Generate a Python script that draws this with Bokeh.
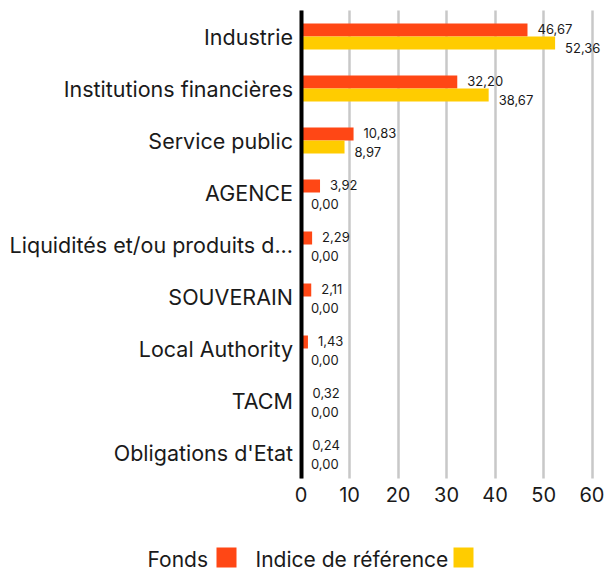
from bokeh.plotting import figure
from bokeh.models import Range1d, ColumnDataSource, FixedTicker, LabelSet
from bokeh.transform import dodge
from bokeh.core.properties import value
from bokeh.embed import file_html
from bokeh.resources import INLINE

# ---- data ----
categories = ["Industrie", "Institutions financières", "Service public", "AGENCE",
              "Liquidités et/ou produits d...", "SOUVERAIN", "Local Authority",
              "TACM", "Obligations d'Etat"]
fonds = [46.67, 32.20, 10.83, 3.92, 2.29, 2.11, 1.43, 0.32, 0.24]
indice = [52.36, 38.67, 8.97, 0.00, 0.00, 0.00, 0.00, 0.00, 0.00]
x_ticks = [0, 10, 20, 30, 40, 50, 60]
series_names = ["Fonds", "Indice de référence"]

ORANGE = "#FF4715"
YELLOW = "#FFCC00"
FONT = "Inter"
TXT = "#1a1a1a"

# ---- layout (pixels) ----
W, H = 604, 573
X0_PX = 300.5      # pixel column of value 0
PXU = 4.853        # pixels per unit on the value axis
Y0_PX = 478.0      # pixel row of the bottom of the category area
ROW_PX = 52.0      # pixels per category row
NCAT = len(categories)

def x_at(px):
    return (px - X0_PX) / PXU

def y_at(py):
    return (Y0_PX - py) / ROW_PX

def fmt(v):
    return f"{v:.2f}".replace(".", ",")

pos = [NCAT - 0.5 - i for i in range(NCAT)]  # Industrie on top

src = ColumnDataSource(dict(
    pos=pos, fonds=fonds, indice=indice,
    fonds_lbl=[fmt(v) for v in fonds], indice_lbl=[fmt(v) for v in indice],
))

p = figure(width=W, height=H,
           x_range=Range1d(x_at(0), x_at(W)), y_range=Range1d(y_at(H), y_at(0)),
           output_backend="svg", toolbar_location=None,
           min_border_left=0, min_border_right=0,
           min_border_top=0, min_border_bottom=0)

p.hbar(y=dodge("pos", 0.125), left=0, right="fonds", height=0.25,
       fill_color=ORANGE, line_color=None, source=src)
p.hbar(y=dodge("pos", -0.125), left=0, right="indice", height=0.25,
       fill_color=YELLOW, line_color=None, source=src)

p.add_layout(LabelSet(x="fonds", y=dodge("pos", 0.125), text="fonds_lbl",
                      x_offset=10, y_offset=1.5, text_baseline="middle", text_align="left",
                      text_font=value(FONT), text_font_size=value("13px"),
                      text_color=value(TXT), source=src))
p.add_layout(LabelSet(x="indice", y=dodge("pos", -0.125), text="indice_lbl",
                      x_offset=10, y_offset=-5, text_baseline="middle", text_align="left",
                      text_font=value(FONT), text_font_size=value("13px"),
                      text_color=value(TXT), source=src))

p.outline_line_color = None
p.ygrid.grid_line_color = None
p.xgrid.ticker = FixedTicker(ticks=x_ticks)
p.xgrid.grid_line_color = "#c8c8c8"
p.xgrid.grid_line_width = 2.5
try:
    p.xgrid.cross_bounds = (0, NCAT)
except AttributeError:
    p.xgrid.grid_line_color = None
    p.segment(x0=x_ticks, x1=x_ticks, y0=[0] * len(x_ticks), y1=[NCAT] * len(x_ticks),
              line_color="#c8c8c8", line_width=2.5)

# x axis drawn at the bottom of the category area
p.xaxis.ticker = FixedTicker(ticks=x_ticks)
p.xaxis.fixed_location = 0
p.xaxis.axis_line_color = None
p.xaxis.major_tick_line_color = None
p.xaxis.minor_tick_line_color = None
p.xaxis.major_label_standoff = 2
p.xaxis.major_label_text_font = FONT
p.xaxis.major_label_text_font_size = "20px"
p.xaxis.major_label_text_color = TXT

# y axis at value 0: category names at the row centres
overrides = {}
for y, name in zip(pos, categories):
    overrides[y] = name
    overrides[str(y)] = name
p.yaxis.ticker = FixedTicker(ticks=pos)
p.yaxis.major_label_overrides = overrides
p.yaxis.fixed_location = 0
p.yaxis.bounds = (0, NCAT)
p.yaxis.axis_line_color = "black"
p.yaxis.axis_line_width = 4
p.yaxis.major_tick_line_color = None
p.yaxis.minor_tick_line_color = None
p.yaxis.major_label_standoff = 2
p.yaxis.major_label_text_font = FONT
p.yaxis.major_label_text_font_size = "21.5px"
p.yaxis.major_label_text_color = TXT

# ---- legend below the chart: label followed by its swatch ----
leg = ColumnDataSource(dict(
    name=series_names,
    tx=[x_at(147), x_at(255)],
    sx=[x_at(226), x_at(463)],
    ty=[y_at(559), y_at(559)],
    sy=[y_at(557), y_at(557)],
    color=[ORANGE, YELLOW],
))
p.text(x="tx", y="ty", text="name", text_baseline="middle", text_align="left",
       text_font=value(FONT), text_font_size=value("21px"), text_color=TXT, source=leg)
p.scatter(x="sx", y="sy", marker="square", size=20, fill_color="color",
          line_color=None, source=leg)

open("out.html", "w").write(file_html(p, INLINE))
